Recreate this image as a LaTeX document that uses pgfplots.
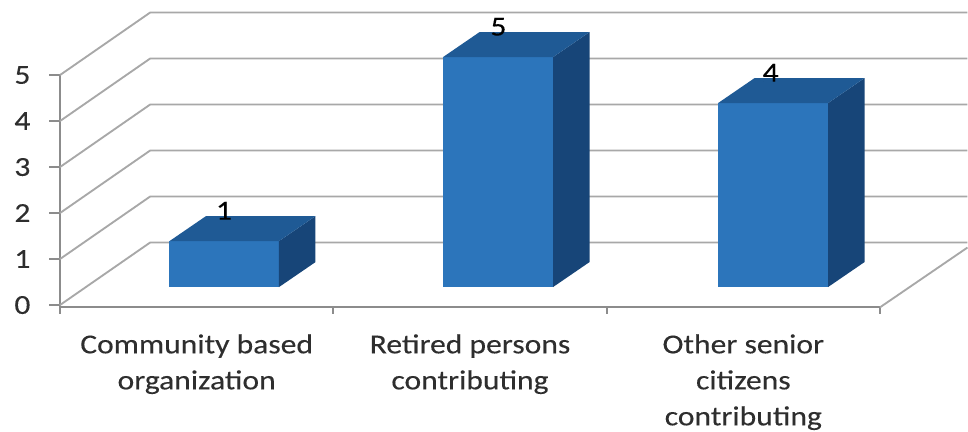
\documentclass[border=0pt]{standalone}
\usepackage{pgfplots}
\pgfplotsset{compat=1.18}
\usepackage{fontspec}
\setmainfont[FakeStretch=1.15,FakeBold=0.2]{Carlito}
\definecolor{txt}{HTML}{2E2E2E}
\definecolor{gridc}{HTML}{A8A8A8}
\definecolor{axc}{HTML}{8C8C8C}
\definecolor{barf}{HTML}{2C75BB}
\definecolor{bart}{HTML}{1F5A95}
\definecolor{bars}{HTML}{174578}
\begin{document}
\begin{tikzpicture}
\useasboundingbox (-45pt,-92.8pt) rectangle (681pt,230.5pt);
\begin{axis}[
  scale only axis, width=615pt, height=174.2pt,
  xmin=0, xmax=3, ymin=-0.05, ymax=5, clip=false,
  axis x line=bottom, axis y line=left,
  axis line style={-, draw=axc, line width=1.4pt},
  tick align=outside,
  tick style={draw=axc, line width=1.4pt},
  major tick length=8pt, minor tick length=5pt,
  xtick={0.5,1.5,2.5}, minor xtick={0,1,2,3},
  major x tick style={draw=none},
  ytick={0,1,2,3,4,5},
  xticklabels={{Community based\\organization},{Retired persons\\contributing},{Other senior\\citizens\\contributing}},
  /pgf/number format/assume math mode=true,
  every tick label/.append style={text=txt, font=\fontsize{20.6pt}{27pt}\selectfont},
  xticklabel style={align=center, anchor=north, inner sep=0pt, yshift=-12pt},
  yticklabel style={anchor=east, inner sep=0pt, xshift=-14pt},
]
% walls: gridlines (side wall and back wall)
\addplot[gridc, line width=1.4pt] coordinates {(0,0)(0.33,1.36)(3.32,1.36)};
\addplot[gridc, line width=1.4pt] coordinates {(0,1)(0.33,2.36)(3.32,2.36)};
\addplot[gridc, line width=1.4pt] coordinates {(0,2)(0.33,3.36)(3.32,3.36)};
\addplot[gridc, line width=1.4pt] coordinates {(0,3)(0.33,4.36)(3.32,4.36)};
\addplot[gridc, line width=1.4pt] coordinates {(0,4)(0.33,5.36)(3.32,5.36)};
\addplot[gridc, line width=1.4pt] coordinates {(0,5)(0.33,6.36)(3.32,6.36)};
\addplot[gridc, line width=1.4pt] coordinates {(3,-0.05)(3.32,1.25)};
% bar 1, value 1
\addplot[fill=barf, draw=none] coordinates {(0.4006,0.39)(0.8012,0.39)(0.8012,1.39)(0.4006,1.39)};
\addplot[fill=bars, draw=none] coordinates {(0.8012,0.39)(0.9347,0.9335)(0.9347,1.9335)(0.8012,1.39)};
\addplot[fill=bart, draw=none] coordinates {(0.4006,1.39)(0.8012,1.39)(0.9347,1.9335)(0.5341,1.9335)};
% bar 2, value 5
\addplot[fill=barf, draw=none] coordinates {(1.4012,0.39)(1.8037,0.39)(1.8037,5.39)(1.4012,5.39)};
\addplot[fill=bars, draw=none] coordinates {(1.8037,0.39)(1.9372,0.9335)(1.9372,5.9335)(1.8037,5.39)};
\addplot[fill=bart, draw=none] coordinates {(1.4012,5.39)(1.8037,5.39)(1.9372,5.9335)(1.5347,5.9335)};
% bar 3, value 4
\addplot[fill=barf, draw=none] coordinates {(2.4074,0.39)(2.8098,0.39)(2.8098,4.39)(2.4074,4.39)};
\addplot[fill=bars, draw=none] coordinates {(2.8098,0.39)(2.9433,0.9335)(2.9433,4.9335)(2.8098,4.39)};
\addplot[fill=bart, draw=none] coordinates {(2.4074,4.39)(2.8098,4.39)(2.9433,4.9335)(2.5409,4.9335)};
% data labels
\addplot[draw=none, mark=none, point meta=explicit symbolic,
  nodes near coords, every node near coord/.style={anchor=center, inner sep=0pt, text=black, font=\fontsize{20.6pt}{24pt}\selectfont}]
  coordinates {(0.6,2.05)[1] (1.604,6.05)[5] (2.6,5.05)[4]};
\end{axis}
\end{tikzpicture}
\end{document}
